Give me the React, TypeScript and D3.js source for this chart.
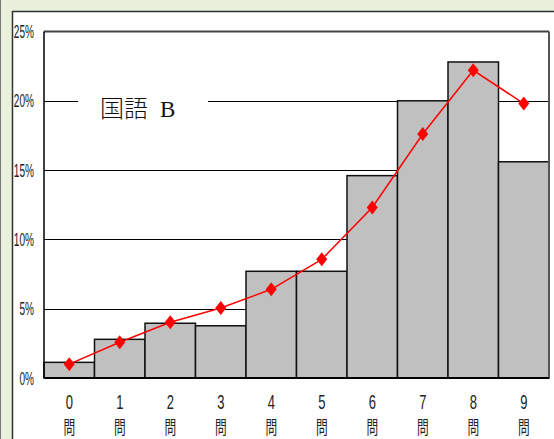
import * as d3 from 'd3';

const categories = ['0', '1', '2', '3', '4', '5', '6', '7', '8', '9'];
const barValues = [1.13, 2.79, 3.95, 3.77, 7.7, 7.7, 14.6, 20.0, 22.8, 15.6];
const lineValues = [1.0, 2.58, 4.02, 5.05, 6.4, 8.56, 12.3, 17.6, 22.2, 19.8];
const yTicks = [0, 5, 10, 15, 20, 25];
const titleJa = '国語';
const titleLatin = 'B';

const W = 554;
const H = 439;
const plot = { left: 44, right: 549, top: 31.5, bottom: 378 };

export default function App() {
  const x = d3.scaleBand<string>().domain(categories).range([plot.left, plot.right]).padding(0);
  const y = d3.scaleLinear().domain([0, 25]).range([plot.bottom, plot.top]);
  const line = d3
    .line<number>()
    .x((_, i) => (x(categories[i]) ?? 0) + x.bandwidth() / 2)
    .y((d) => y(d));

  const narrow = (cx: number, cy: number, sx: number) => `translate(${cx},${cy}) scale(${sx},1)`;

  return (
    <svg width={W} height={H} style={{ position: 'absolute', left: 0, top: 0 }}>
      <rect x={0} y={0} width={W} height={H} fill="#e9f0dc" />
      <rect x={12} y={11} width={W - 12} height={H - 11} fill="#ffffff" />
      <line x1={12} x2={W} y1={11.5} y2={11.5} stroke="#333" strokeWidth={1.5} />
      <line x1={12.5} x2={12.5} y1={11} y2={H} stroke="#333" strokeWidth={1.5} />
      <line x1={0.5} x2={0.5} y1={0} y2={H} stroke="#777" strokeWidth={1} />

      {/* gridlines */}
      {yTicks.filter((t) => t > 0 && t < 25).map((t) => (
        <line key={t} x1={plot.left} x2={plot.right} y1={Math.round(y(t)) + 0.5} y2={Math.round(y(t)) + 0.5} stroke="#000" strokeWidth={1} />
      ))}

      {/* title box */}
      <rect x={78} y={92} width={130} height={28} fill="#fff" />
      <text x={100} y={117} fontFamily="'Noto Sans CJK JP', serif" fontSize={24} fontWeight={300} fill="#111">
        {titleJa}
      </text>
      <text x={160} y={117} fontFamily="'Liberation Serif', serif" fontSize={23} fill="#111">
        {titleLatin}
      </text>

      {/* bars */}
      {barValues.map((v, i) => (
        <rect
          key={i}
          x={x(categories[i]) ?? 0}
          y={y(v)}
          width={x.bandwidth()}
          height={plot.bottom - y(v)}
          fill="#c0c0c0"
          stroke="#111"
          strokeWidth={1.5}
        />
      ))}

      {/* frame */}
      <line x1={plot.left} x2={plot.right} y1={plot.top} y2={plot.top} stroke="#444" strokeWidth={2} />
      <line x1={plot.right} x2={plot.right} y1={plot.top} y2={plot.bottom} stroke="#555" strokeWidth={2} />
      <line x1={plot.left} x2={plot.left} y1={plot.top} y2={plot.bottom} stroke="#000" strokeWidth={1.5} />
      <line x1={plot.left} x2={plot.right} y1={plot.bottom} y2={plot.bottom} stroke="#000" strokeWidth={2} />

      {/* line series */}
      <path d={line(lineValues) ?? ''} fill="none" stroke="#ff0000" strokeWidth={1.5} />
      {lineValues.map((v, i) => {
        const cx = (x(categories[i]) ?? 0) + x.bandwidth() / 2;
        const cy = y(v);
        return <path key={i} d={`M${cx},${cy - 7}L${cx + 5.5},${cy}L${cx},${cy + 7}L${cx - 5.5},${cy}Z`} fill="#ff0000" />;
      })}

      {/* y labels */}
      {yTicks.map((t) => (
        <text
          key={t}
          transform={narrow(34, y(t) + 6.5, 0.56)}
          textAnchor="end"
          fontFamily="'Liberation Sans', Arial, sans-serif"
          fontSize={18}
          fill="#222"
        >
          {`${t}%`}
        </text>
      ))}

      {/* x labels */}
      {categories.map((c) => {
        const cx = (x(c) ?? 0) + x.bandwidth() / 2;
        return (
          <g key={c}>
            <text transform={narrow(cx, 409, 0.65)} textAnchor="middle" fontFamily="'Liberation Sans', Arial, sans-serif" fontSize={20} fill="#222">
              {c}
            </text>
            <text transform={narrow(cx, 434, 0.65)} textAnchor="middle" fontFamily="'Noto Sans CJK JP', sans-serif" fontSize={18} fill="#222">
              問
            </text>
          </g>
        );
      })}
    </svg>
  );
}
